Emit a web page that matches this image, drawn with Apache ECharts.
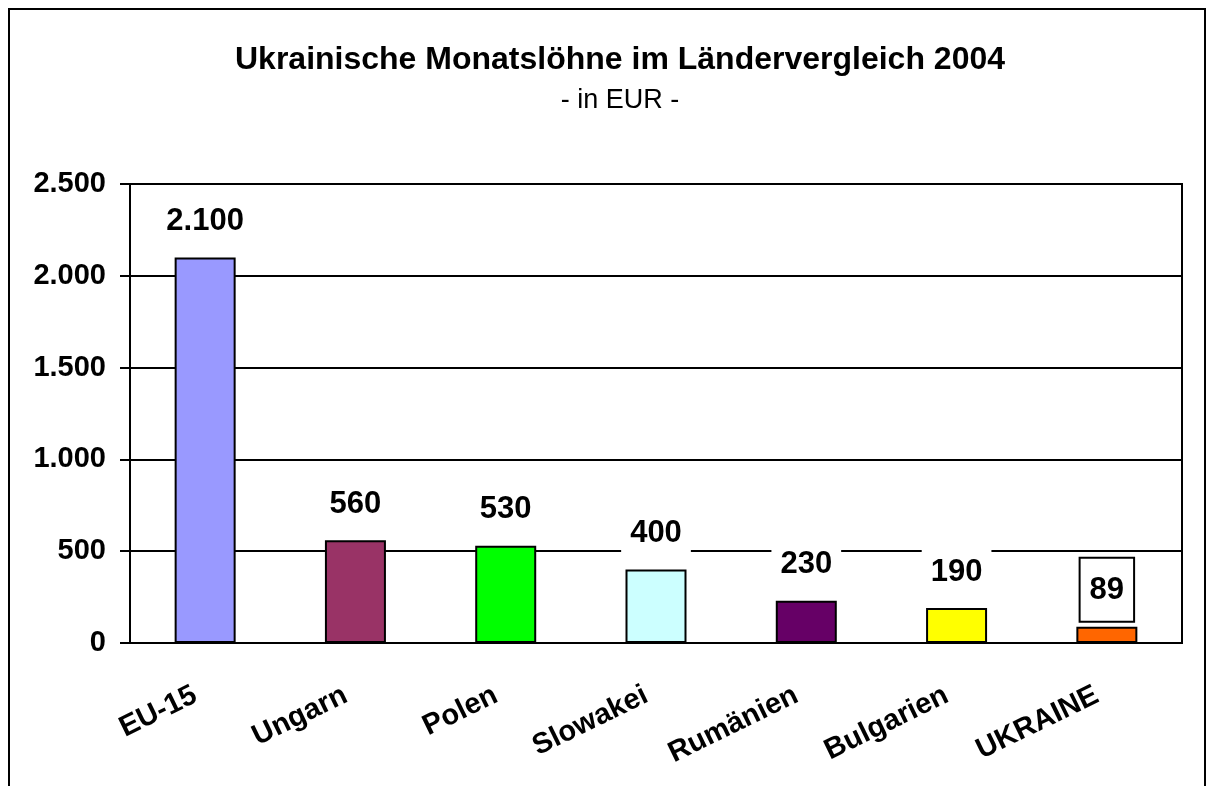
<!DOCTYPE html>
<html>
<head>
<meta charset="utf-8">
<script src="https://cdn.jsdelivr.net/npm/echarts@6/dist/echarts.min.js"></script>
<style>
  html, body { margin: 0; padding: 0; background: #fff; }
  #chart { width: 1213px; height: 786px; }
</style>
</head>
<body>
<div id="chart"></div>
<script>
// Länder und Monatslöhne (EUR)
var countries = ['EU-15', 'Ungarn', 'Polen', 'Slowakei', 'Rumänien', 'Bulgarien', 'UKRAINE'];
var wages = [2100, 560, 530, 400, 230, 190, 89];
var barColors = ['#9999FF', '#993366', '#00FF00', '#CCFFFF', '#660066', '#FFFF00', '#FF6600'];
var yTicks = [0, 500, 1000, 1500, 2000, 2500];

function fmt(v) {
    return String(v).replace(/\B(?=(\d{3})+(?!\d))/g, '.');
}

var dom = document.getElementById('chart');
var myChart = echarts.init(dom);

var data = [];
for (var i = 0; i < wages.length; i++) {
    var d = {
        value: wages[i],
        itemStyle: { color: barColors[i] }
    };
    // nur die Ukraine hat einen Rahmen um die Zahl
    if (countries[i] === 'UKRAINE') {
        d.label = { borderColor: '#000', borderWidth: 2 };
    }
    data.push(d);
}

var font = "'Liberation Sans', Arial, sans-serif";

var option = {
    animation: false,
    backgroundColor: '#fff',
    textStyle: { fontFamily: font },
    title: {
        text: 'Ukrainische Monatslöhne im Ländervergleich 2004',
        subtext: '- in EUR -',
        left: 615,
        textAlign: 'center',
        top: 39,
        itemGap: 11,
        textStyle: {
            fontWeight: 'bold',
            fontSize: 32,
            color: '#000'
        },
        subtextStyle: {
            fontSize: 27,
            color: '#000'
        }
    },
    graphic: [{
        type: 'rect',
        shape: { x: 9, y: 9, width: 1196, height: 820 },
        style: { fill: null, stroke: '#000', lineWidth: 2 },
        silent: true
    }],
    grid: {
        left: 130,
        right: 31,
        top: 184,
        bottom: 143,
        show: true,
        borderColor: '#000',
        borderWidth: 2
    },
    xAxis: {
        type: 'category',
        data: countries,
        axisLine: { lineStyle: { color: '#000', width: 2 } },
        axisTick: { length: 10, lineStyle: { color: '#000', width: 2 } },
        axisLabel: {
            rotate: 26,
            margin: 46,
            padding: [0, 11, 0, 0],
            fontSize: 29,
            fontWeight: 'bold',
            color: '#000',
            interval: 0
        }
    },
    yAxis: {
        type: 'value',
        min: yTicks[0],
        max: yTicks[yTicks.length - 1],
        interval: 500,
        axisLine: { show: true, lineStyle: { color: '#000', width: 2 } },
        axisTick: { show: true, length: 10, lineStyle: { color: '#000', width: 2 } },
        splitLine: { lineStyle: { color: '#000', width: 2 } },
        axisLabel: {
            margin: 24,
            fontSize: 29,
            fontWeight: 'bold',
            color: '#000',
            formatter: function (v) { return fmt(v); }
        }
    },
    series: [{
        type: 'bar',
        data: data,
        barWidth: 61,
        itemStyle: { borderColor: '#000', borderWidth: 2 },
        label: {
            show: true,
            position: 'top',
            distance: 6,
            fontSize: 31,
            lineHeight: 28,
            fontWeight: 'bold',
            color: '#000',
            backgroundColor: '#fff',
            padding: [18, 9, 16, 9],
            formatter: function (p) { return fmt(p.value); }
        }
    }]
};

if (option && typeof option === "object") {
    myChart.setOption(option, true);
}
</script>
</body>
</html>
